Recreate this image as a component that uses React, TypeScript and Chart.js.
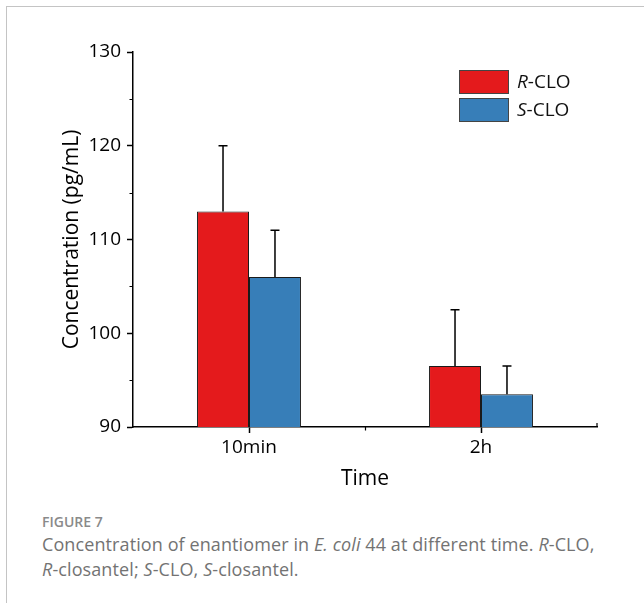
import React, { useEffect, useRef } from "react";
import { Chart, registerables } from "chart.js";

Chart.register(...registerables);

const categories = ["10min", "2h"];
const seriesNames = ["R-CLO", "S-CLO"];
const rValues = [113, 96.5];
const sValues = [106, 93.5];
const rErrors = [7, 6];
const sErrors = [5, 3];
const yTicks = [90, 100, 110, 120, 130];
const yMinorTicks = [95, 105, 115, 125];
const seriesColors = ["#E41A1C", "#377EB8"];

const FONT = "'Open Sans', 'Noto Sans', sans-serif";

const errorBarPlugin = {
  id: "errorBars",
  afterDatasetsDraw(chart: any) {
    const ctx = chart.ctx;
    const y = chart.scales.y;
    chart.data.datasets.forEach((ds: any, i: number) => {
      const meta = chart.getDatasetMeta(i);
      meta.data.forEach((bar: any, j: number) => {
        const v = ds.data[j];
        const e = ds.errors[j];
        const base = y.getPixelForValue(v);
        const top = y.getPixelForValue(v + e);
        ctx.save();
        ctx.strokeStyle = "#000";
        ctx.lineWidth = 1.5;
        ctx.beginPath();
        ctx.moveTo(bar.x, base);
        ctx.lineTo(bar.x, top);
        ctx.moveTo(bar.x - 4.5, top);
        ctx.lineTo(bar.x + 4.5, top);
        ctx.stroke();
        ctx.restore();
      });
    });
  },
};

const minorTickPlugin = {
  id: "minorTicks",
  afterDraw(chart: any) {
    const ctx = chart.ctx;
    const { left, right, bottom } = chart.chartArea;
    const y = chart.scales.y;
    const x = chart.scales.x;
    ctx.save();
    ctx.strokeStyle = "#000";
    ctx.lineWidth = 1.2;
    ctx.beginPath();
    yMinorTicks.forEach((v) => {
      const py = Math.round(y.getPixelForValue(v)) + 0.5;
      ctx.moveTo(left - 3.5, py);
      ctx.lineTo(left, py);
    });
    const p0 = x.getPixelForValue(0);
    const p1 = x.getPixelForValue(1);
    const mid = Math.round((p0 + p1) / 2) + 0.5;
    ctx.moveTo(mid, bottom);
    ctx.lineTo(mid, bottom + 3.5);
    ctx.moveTo(right, bottom);
    ctx.lineTo(right, bottom - 4);
    ctx.stroke();
    ctx.restore();
  },
};

const legendPlugin = {
  id: "customLegend",
  afterDraw(chart: any) {
    const ctx = chart.ctx;
    const { right, top } = chart.chartArea;
    const boxW = 50;
    const boxH = 24;
    const gap = 4;
    const x0 = right - 138;
    const y0 = top + 18;
    chart.data.datasets.forEach((ds: any, i: number) => {
      const by = y0 + i * (boxH + gap);
      ctx.save();
      ctx.fillStyle = ds.backgroundColor;
      ctx.fillRect(x0, by, boxW, boxH);
      ctx.strokeStyle = "#444";
      ctx.lineWidth = 1;
      ctx.strokeRect(x0 + 0.5, by + 0.5, boxW - 1, boxH - 1);
      const label: string = ds.label;
      const first = label.charAt(0);
      const rest = label.slice(1);
      ctx.fillStyle = "#111";
      ctx.textBaseline = "middle";
      ctx.textAlign = "left";
      const ty = by + boxH / 2 + 1;
      let tx = x0 + boxW + 8;
      ctx.font = `italic 19px ${FONT}`;
      ctx.fillText(first, tx, ty);
      tx += ctx.measureText(first).width;
      ctx.font = `19px ${FONT}`;
      ctx.fillText(rest, tx, ty);
      ctx.restore();
    });
  },
};

function BarChart() {
  const ref = useRef<HTMLCanvasElement | null>(null);
  useEffect(() => {
    if (!ref.current) return;
    const chart = new Chart(ref.current, {
      type: "bar",
      data: {
        labels: categories,
        datasets: [
          {
            label: seriesNames[0],
            data: rValues,
            errors: rErrors,
            backgroundColor: seriesColors[0],
            borderColor: "#1a1a1a",
            borderWidth: 1,
          } as any,
          {
            label: seriesNames[1],
            data: sValues,
            errors: sErrors,
            backgroundColor: seriesColors[1],
            borderColor: "#1a1a1a",
            borderWidth: 1,
          } as any,
        ],
      },
      options: {
        animation: false,
        responsive: true,
        maintainAspectRatio: false,
        layout: { padding: { top: 52, right: 47, left: 0, bottom: 0 } },
        datasets: {
          bar: { barPercentage: 1, categoryPercentage: 0.448 },
        },
        plugins: {
          legend: { display: false },
          tooltip: { enabled: false },
        },
        scales: {
          x: {
            type: "category",
            offset: true,
            afterFit(scale: any) {
              scale.height = 73;
            },
            grid: {
              offset: false,
              drawOnChartArea: false,
              drawTicks: true,
              tickLength: 6,
              tickColor: "#000",
              tickWidth: 1.5,
            },
            border: { color: "#000", width: 1.5 },
            ticks: {
              color: "#000",
              padding: 3,
              font: { family: FONT, size: 19 },
            },
            title: {
              display: true,
              text: "Time",
              color: "#000",
              font: { family: FONT, size: 21 },
              padding: { top: 0, bottom: 8 },
            },
          },
          y: {
            type: "linear",
            min: 90,
            max: 130,
            afterFit(scale: any) {
              scale.width = 133;
            },
            afterBuildTicks(scale: any) {
              scale.ticks = yTicks.map((v) => ({ value: v }));
            },
            grid: {
              drawOnChartArea: false,
              drawTicks: true,
              tickLength: 6,
              tickColor: "#000",
              tickWidth: 1.5,
            },
            border: { color: "#000", width: 1.5 },
            ticks: {
              color: "#000",
              padding: 6,
              font: { family: FONT, size: 19 },
            },
            title: {
              display: true,
              text: "Concentration (pg/mL)",
              color: "#000",
              font: { family: FONT, size: 21 },
              padding: { top: 59, bottom: 0 },
            },
          },
        },
      },
      plugins: [errorBarPlugin, minorTickPlugin, legendPlugin],
    } as any);
    return () => chart.destroy();
  }, []);
  return <canvas ref={ref} />;
}

export default function App() {
  return (
    <div
      style={{
        position: "fixed",
        left: 0,
        top: 0,
        width: 644,
        height: 603,
        background: "#fff",
        overflow: "hidden",
      }}
    >
      <div
        style={{
          position: "absolute",
          left: 6,
          top: 6,
          width: 700,
          height: 700,
          borderTop: "1px solid #c4c4c4",
          borderLeft: "1px solid #c4c4c4",
        }}
      />
      <div style={{ position: "absolute", left: 0, top: 0, width: 644, height: 500 }}>
        <BarChart />
      </div>
      <div
        style={{
          position: "absolute",
          left: 42,
          top: 512,
          fontFamily: FONT,
          fontSize: 14,
          fontWeight: 600,
          color: "#8a8a8a",
          lineHeight: "20px",
        }}
      >
        FIGURE 7
      </div>
      <div
        style={{
          position: "absolute",
          left: 42,
          top: 532,
          width: 600,
          fontFamily: FONT,
          fontSize: 18,
          letterSpacing: "0.1px",
          color: "#737373",
          lineHeight: "25px",
          whiteSpace: "nowrap",
        }}
      >
        Concentration of enantiomer in <i>E. coli</i> 44 at different time. <i>R</i>-CLO,
        <br />
        <i>R</i>-closantel; <i>S</i>-CLO, <i>S</i>-closantel.
      </div>
    </div>
  );
}
